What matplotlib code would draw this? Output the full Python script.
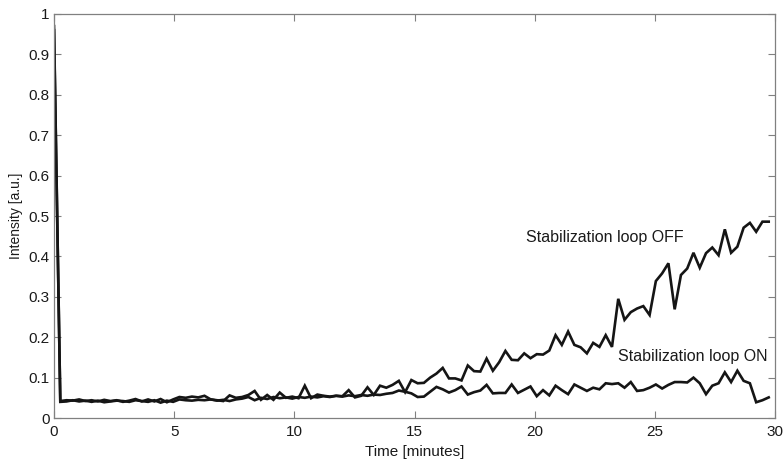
import numpy as np
import matplotlib
matplotlib.use("Agg")
import matplotlib.pyplot as plt

step = 0.2608
off_vals = [0.97, 0.042, 0.044, 0.043, 0.046, 0.042, 0.044, 0.041, 0.045, 0.042,
            0.044, 0.040, 0.043, 0.047, 0.041, 0.046, 0.041, 0.047, 0.039, 0.046,
            0.052, 0.050, 0.053, 0.051, 0.055, 0.046, 0.044, 0.042, 0.056, 0.050,
            0.052, 0.057, 0.067, 0.045, 0.057, 0.045, 0.063, 0.050, 0.053, 0.049,
            0.080, 0.049, 0.058, 0.055, 0.053, 0.055, 0.054, 0.069, 0.051, 0.055,
            0.076, 0.057, 0.080, 0.075, 0.082, 0.092, 0.064, 0.094, 0.086, 0.087,
            0.100, 0.110, 0.124, 0.098, 0.098, 0.093, 0.130, 0.116, 0.115, 0.147,
            0.117, 0.138, 0.166, 0.144, 0.143, 0.160, 0.148, 0.158, 0.157, 0.167,
            0.205, 0.181, 0.214, 0.181, 0.175, 0.160, 0.186, 0.176, 0.205, 0.176,
            0.295, 0.243, 0.262, 0.271, 0.277, 0.255, 0.339, 0.358, 0.383, 0.269,
            0.354, 0.370, 0.409, 0.372, 0.408, 0.422, 0.403, 0.467, 0.409, 0.424,
            0.471, 0.483, 0.461, 0.486, 0.486]
on_vals = [0.96, 0.040, 0.041, 0.044, 0.041, 0.043, 0.040, 0.043, 0.039, 0.041,
           0.043, 0.042, 0.040, 0.044, 0.042, 0.040, 0.044, 0.038, 0.043, 0.040,
           0.046, 0.044, 0.043, 0.045, 0.044, 0.046, 0.043, 0.045, 0.042, 0.046,
           0.048, 0.052, 0.044, 0.050, 0.047, 0.052, 0.049, 0.051, 0.048, 0.052,
           0.050, 0.053, 0.051, 0.054, 0.052, 0.055, 0.053, 0.056, 0.054, 0.057,
           0.055, 0.058, 0.057, 0.060, 0.062, 0.068, 0.065, 0.061, 0.052, 0.053,
           0.065, 0.077, 0.071, 0.063, 0.069, 0.078, 0.058, 0.064, 0.068, 0.082,
           0.061, 0.062, 0.062, 0.083, 0.062, 0.070, 0.078, 0.054, 0.069, 0.056,
           0.080, 0.069, 0.059, 0.083, 0.075, 0.067, 0.075, 0.071, 0.086, 0.084,
           0.086, 0.075, 0.089, 0.067, 0.069, 0.075, 0.083, 0.073, 0.082, 0.089,
           0.089, 0.088, 0.100, 0.086, 0.059, 0.080, 0.086, 0.113, 0.089, 0.117,
           0.092, 0.086, 0.039, 0.044, 0.051]
time = np.arange(len(off_vals)) * step

x_ticks = [0, 5, 10, 15, 20, 25, 30]
y_ticks = [0, 0.1, 0.2, 0.3, 0.4, 0.5, 0.6, 0.7, 0.8, 0.9, 1]
y_tick_labels = ["0", "0.1", "0.2", "0.3", "0.4", "0.5", "0.6", "0.7", "0.8", "0.9", "1"]

plt.rcParams['font.family'] = ['Liberation Sans', 'DejaVu Sans']

fig = plt.figure(figsize=(7.83, 4.59), dpi=100)
ax = fig.add_axes([0.069, 0.0893, 0.921, 0.8802])
lc = '#151515'
ax.plot(time, off_vals, color=lc, lw=1.9, solid_joinstyle='miter')
ax.plot(time, on_vals, color=lc, lw=1.9, solid_joinstyle='miter')

ax.set_xlim(0, 30)
ax.set_ylim(0, 1)
ax.set_xticks(x_ticks)
ax.set_yticks(y_ticks)
ax.set_yticklabels(y_tick_labels)
ax.tick_params(direction='in', length=5, width=0.8, color='#808080',
               top=True, right=True, labelsize=11, labelcolor='#1a1a1a')
ax.tick_params(axis='x', pad=5)
ax.tick_params(axis='y', pad=3)
for s in ax.spines.values():
    s.set_color('#808080')
    s.set_linewidth(0.9)

ax.set_xlabel('Time [minutes]', fontsize=11, color='#1a1a1a', labelpad=4)
ax.set_ylabel('Intensity [a.u.]', fontsize=10, color='#1a1a1a', labelpad=4)

ax.text(19.65, 0.448, 'Stabilization loop OFF', fontsize=11.5, color='#1a1a1a',
        ha='left', va='center')
ax.text(23.45, 0.153, 'Stabilization loop ON', fontsize=11.5, color='#1a1a1a',
        ha='left', va='center')

fig.savefig('out.png', dpi=100)
